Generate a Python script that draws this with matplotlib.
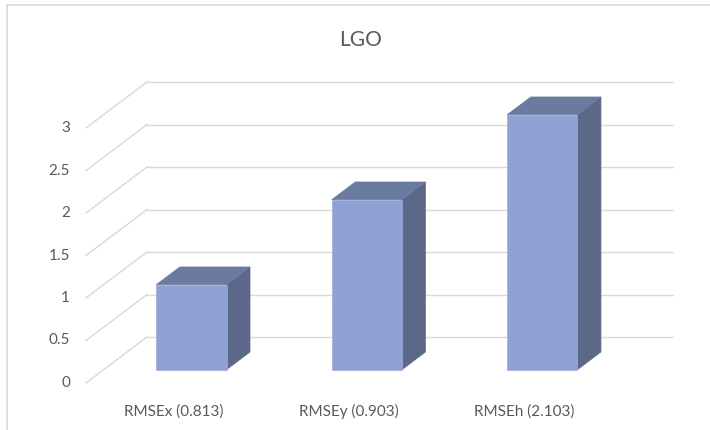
import matplotlib
matplotlib.use("Agg")
import matplotlib.pyplot as plt
from matplotlib.patches import Polygon
from matplotlib.lines import Line2D

# dados do grafico
titulo = "LGO"
categorias = ["RMSEx (0.813)", "RMSEy (0.903)", "RMSEh (2.103)"]
valores = [1, 2, 3]
ticks = [0, 0.5, 1, 1.5, 2, 2.5, 3]

# profundidade obliqua (imita o grafico 3D do Excel)
DX = 0.3476   # deslocamento em unidades de categoria
DY = 0.541    # deslocamento em unidades de valor
FRENTE, FUNDO = 0.29, 0.675   # posicao da barra na profundidade
LARGURA = 0.4

COR_GRADE = "#d9d9d9"
COR_TEXTO = "#595959"
plt.rcParams["font.family"] = ["Lato", "DejaVu Sans"]

fig = plt.figure(figsize=(7.1, 4.3), dpi=100)
ax = fig.add_axes([0, 0, 1, 1])
ax.set_xlim(-0.49, 3.556)
ax.set_ylim(-0.553, 4.506)
ax.axis("off")

n = len(categorias)

# grade: parede do fundo e parede lateral
for t in ticks:
    ax.plot([DX, n + DX], [t + DY, t + DY], color=COR_GRADE, lw=1, zorder=1)
    ax.plot([0, DX], [t, t + DY], color=COR_GRADE, lw=1, zorder=1)
    ax.text(-0.091, t, f"{t:g}", ha="right", va="center", fontsize=11, color=COR_TEXTO)

# barras com frente, topo e lateral
for i, (cat, v) in enumerate(zip(categorias, valores)):
    xl = i + 0.5 - LARGURA / 2 + FRENTE * DX
    xr = xl + LARGURA
    yb = FRENTE * DY
    ddx = (FUNDO - FRENTE) * DX
    ddy = (FUNDO - FRENTE) * DY
    frente = [(xl, yb), (xr, yb), (xr, yb + v), (xl, yb + v)]
    topo = [(xl, yb + v), (xr, yb + v), (xr + ddx, yb + v + ddy), (xl + ddx, yb + v + ddy)]
    lado = [(xr, yb), (xr + ddx, yb + ddy), (xr + ddx, yb + v + ddy), (xr, yb + v)]
    ax.add_patch(Polygon(lado, closed=True, facecolor="#5b6888", edgecolor="#5b6888", lw=0.5, zorder=3))
    ax.add_patch(Polygon(topo, closed=True, facecolor="#6b7ba0", edgecolor="#6b7ba0", lw=0.5, zorder=3))
    ax.add_patch(Polygon(frente, closed=True, facecolor="#8fa2d4", edgecolor="#9aabd9", lw=0.5, zorder=4))
    ax.text(i + 0.5, -0.385, cat, ha="center", va="baseline", fontsize=11, color=COR_TEXTO)

ax.text(361 / 710, 1 - 40 / 430, titulo, transform=fig.transFigure, ha="center", va="center",
        fontsize=15, color=COR_TEXTO)

# borda da area do grafico (so aparecem topo e esquerda)
fig.add_artist(Line2D([7 / 710, 7 / 710], [0, 1 - 5 / 430], color=COR_GRADE, lw=1.2))
fig.add_artist(Line2D([7 / 710, 1], [1 - 5 / 430, 1 - 5 / 430], color=COR_GRADE, lw=1.2))

fig.savefig("out.png", dpi=100)
